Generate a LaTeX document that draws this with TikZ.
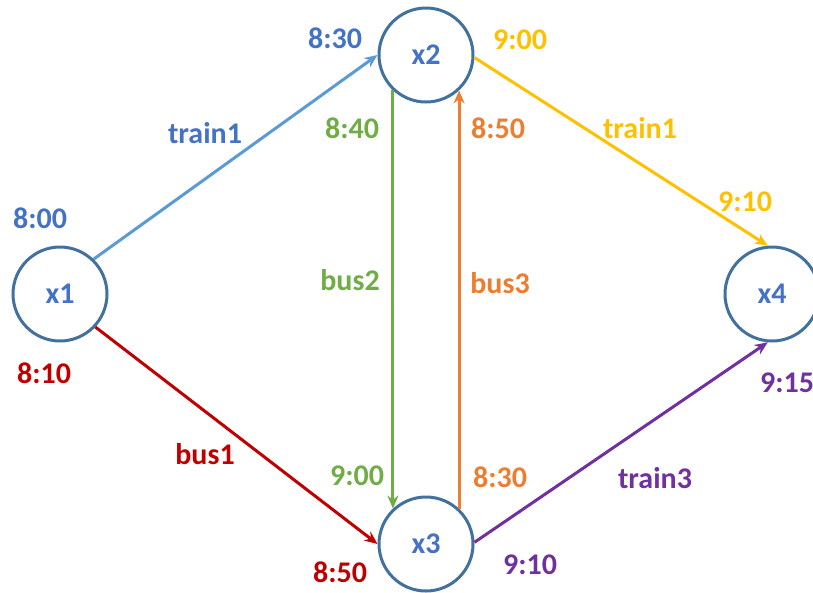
\documentclass[tikz,border=0pt]{standalone}
\usepackage{fontspec}
\setmainfont{Carlito}
\usetikzlibrary{arrows.meta}

\definecolor{ringline}{HTML}{41719C}
\definecolor{lblue}{HTML}{4472C4}
\definecolor{ltrain}{HTML}{5B9BD5}
\definecolor{lred}{HTML}{C00000}
\definecolor{lgreen}{HTML}{70AD47}
\definecolor{lorange}{HTML}{ED7D31}
\definecolor{lyellow}{HTML}{FFC000}
\definecolor{lpurple}{HTML}{7030A0}

\begin{document}
\begin{tikzpicture}[x=1pt, y=-1pt, line width=3pt,
  font=\fontsize{30}{32}\selectfont\bfseries,
  stop/.style={circle, draw=ringline, line width=3pt, minimum size=94pt, inner sep=0pt, text=lblue},
  leg/.style={line width=3pt, -{Stealth[length=13pt,width=11pt]}},
  lbl/.style={inner sep=0pt}]

  %% ════ stops ════
  \node[stop] (x1) at (60,294) {x1};
  \node[stop] (x2) at (426,55) {x2};
  \node[stop] (x3) at (426,544) {x3};
  \node[stop] (x4) at (772,294) {x4};

  %% ════ legs ════
  \draw[leg, ltrain]  (x1.46)  -- (x2.180);
  \draw[leg, lred]    (x1.-43) -- (x3.180);
  \draw[leg, lgreen]  (x2.227) -- (x3.133);
  \draw[leg, lorange] (x3.47)  -- (x2.-47);
  \draw[leg, lyellow] (x2.-3)  -- (x4.95);
  \draw[leg, lpurple] (x3.2)   -- (x4.265);

  %% ════ names and times ════
  \node[lbl, text=lblue] (t800) at (40,218) {8:00};
  \node[lbl, text=lblue] (t830) at (335,38) {8:30};
  \node[lbl, text=lblue] (n1) at (205,133) {train1};

  \node[lbl, text=lred] (t810) at (44,373) {8:10};
  \node[lbl, text=lred] (n2) at (205,454) {bus1};
  \node[lbl, text=lred] (t850) at (340,572) {8:50};

  \node[lbl, text=lgreen] (t840) at (352,128) {8:40};
  \node[lbl, text=lgreen] (n3) at (350,280) {bus2};
  \node[lbl, text=lgreen] (t900) at (357,476) {9:00};

  \node[lbl, text=lorange] (t850b) at (498,128) {8:50};
  \node[lbl, text=lorange] (n4) at (500,283) {bus3};
  \node[lbl, text=lorange] (t830b) at (500,477) {8:30};

  \node[lbl, text=lyellow] (t900b) at (520,40) {9:00};
  \node[lbl, text=lyellow] (n5) at (640,128) {train1};
  \node[lbl, text=lyellow] (t910) at (745,202) {9:10};

  \node[lbl, text=lpurple] (t915) at (787,383) {9:15};
  \node[lbl, text=lpurple] (n6) at (655,478) {train3};
  \node[lbl, text=lpurple] (t910b) at (530,565) {9:10};

  % fix the canvas
  \pgfresetboundingbox
  \path[use as bounding box] (0,0) rectangle (813,592);
\end{tikzpicture}
\end{document}
